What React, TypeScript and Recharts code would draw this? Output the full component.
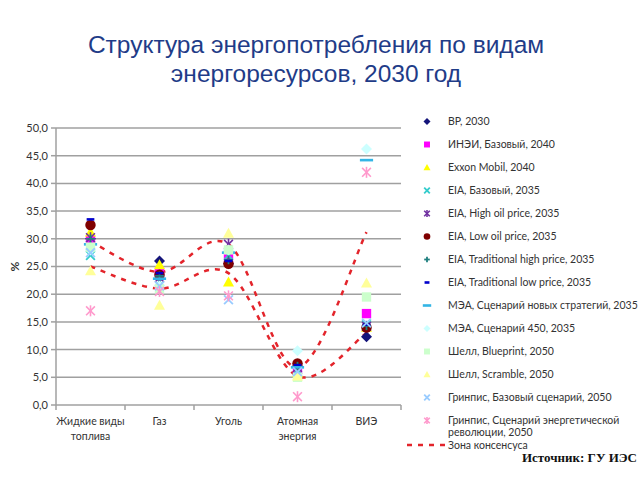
import React from 'react';
import { ComposedChart, Line, XAxis, YAxis, CartesianGrid } from 'recharts';

const categories = ['Жидкие виды\nтоплива', 'Газ', 'Уголь', 'Атомная\nэнергия', 'ВИЭ'];
const yTicks = [0, 5, 10, 15, 20, 25, 30, 35, 40, 45, 50];

const bp2030 = [30, 26, 25.5, 7, 12.3];
const ineiBase = [29.8, 24, 26.5, 6.5, 16.5];
const exxon = [31.2, 25.3, 22.2, 5.8, 14];
const eiaBase = [27, 22.3, 27, 6.3, 14.5];
const eiaHighOil = [30.2, 23, 29, 6.8, 14.2];
const eiaLowOil = [32.5, 23.5, 25.5, 7.5, 14];
const eiaTradHigh = [30, 23.3, 26.2, 7, 14.3];
const eiaTradLow = [33.5, 23.8, 26, 7.2, 14.5];
const ieaNewPolicies = [29, 22.8, 27.5, 6.8, 44.2];
const iea450 = [28, 21.5, 28, 9.8, 46.2];
const shellBlueprint = [28.5, 21, 28, 5, 19.5];
const shellScramble = [24.2, 18, 31, 5.2, 22];
const greenpeaceBase = [27.5, 21.5, 19, 6, 14.8];
const greenpeaceRevolution = [17, 20.5, 19.7, 1.5, 42];
const consensusUpper = [29.5, 24, 29, 6.8, 31.2];
const consensusLower = [25, 21, 23.8, 5.2, 13];
const boundaryTicks = [0, 1, 2, 3, 4, 5];

const seriesNames = [
  'BP, 2030',
  'ИНЭИ, Базовый, 2040',
  'Exxon Mobil, 2040',
  'EIA, Базовый, 2035',
  'EIA, High oil price, 2035',
  'EIA, Low oil price, 2035',
  'EIA, Traditional high price, 2035',
  'EIA, Traditional low price, 2035',
  'МЭА, Сценарий новых стратегий, 2035',
  'МЭА, Сценарий 450, 2035',
  'Шелл, Blueprint, 2050',
  'Шелл, Scramble, 2050',
  'Гринпис, Базовый сценарий, 2050',
  'Гринпис, Сценарий энергетической\nреволюции, 2050',
];
const seriesValues = [
  bp2030, ineiBase, exxon, eiaBase, eiaHighOil, eiaLowOil, eiaTradHigh,
  eiaTradLow, ieaNewPolicies, iea450, shellBlueprint, shellScramble,
  greenpeaceBase, greenpeaceRevolution,
];
const seriesStyles = [
  { color: '#14147a', shape: 'diamond' },
  { color: '#ff00ff', shape: 'square' },
  { color: '#ffff00', shape: 'triangle' },
  { color: '#33cccc', shape: 'x' },
  { color: '#7030a0', shape: 'star' },
  { color: '#7f0000', shape: 'circle' },
  { color: '#1f7f7f', shape: 'plus' },
  { color: '#0000cc', shape: 'dash' },
  { color: '#33b5e5', shape: 'longdash' },
  { color: '#ccffff', shape: 'diamond' },
  { color: '#ccffcc', shape: 'square' },
  { color: '#ffff99', shape: 'triangle' },
  { color: '#99ccff', shape: 'x' },
  { color: '#ff99cc', shape: 'star' },
];

const data = categories.map((c, i) => {
  const row: any = { cat: c, upper: consensusUpper[i], lower: consensusLower[i], pos: i + 0.5 };
  seriesValues.forEach((vals, s) => {
    row['s' + s] = vals[i];
  });
  return row;
});

// Excel-like smoothed line (Catmull-Rom as cubic Bezier)
function smoothCurve(context: any) {
  let pts: number[][] = [];
  return {
    areaStart() {},
    areaEnd() {},
    lineStart() {
      pts = [];
    },
    lineEnd() {
      const n = pts.length;
      if (n === 0) return;
      context.moveTo(pts[0][0], pts[0][1]);
      for (let i = 0; i < n - 1; i++) {
        const p0 = pts[Math.max(i - 1, 0)];
        const p1 = pts[i];
        const p2 = pts[i + 1];
        const p3 = pts[Math.min(i + 2, n - 1)];
        context.bezierCurveTo(
          p1[0] + (p2[0] - p0[0]) / 6,
          p1[1] + (p2[1] - p0[1]) / 6,
          p2[0] - (p3[0] - p1[0]) / 6,
          p2[1] - (p3[1] - p1[1]) / 6,
          p2[0],
          p2[1],
        );
      }
    },
    point(x: number, y: number) {
      pts.push([+x, +y]);
    },
  };
}

function Marker({ shape, cx, cy, r, color }: any) {
  switch (shape) {
    case 'diamond':
      return <polygon points={`${cx},${cy - r} ${cx + r},${cy} ${cx},${cy + r} ${cx - r},${cy}`} fill={color} />;
    case 'square':
      return <rect x={cx - r * 0.85} y={cy - r * 0.85} width={r * 1.7} height={r * 1.7} fill={color} />;
    case 'triangle':
      return <polygon points={`${cx},${cy - r} ${cx + r},${cy + r * 0.8} ${cx - r},${cy + r * 0.8}`} fill={color} />;
    case 'x':
      return (
        <g stroke={color} strokeWidth={1.8}>
          <line x1={cx - r * 0.8} y1={cy - r * 0.8} x2={cx + r * 0.8} y2={cy + r * 0.8} />
          <line x1={cx - r * 0.8} y1={cy + r * 0.8} x2={cx + r * 0.8} y2={cy - r * 0.8} />
        </g>
      );
    case 'star':
      return (
        <g stroke={color} strokeWidth={1.6}>
          <line x1={cx - r * 0.8} y1={cy - r * 0.8} x2={cx + r * 0.8} y2={cy + r * 0.8} />
          <line x1={cx - r * 0.8} y1={cy + r * 0.8} x2={cx + r * 0.8} y2={cy - r * 0.8} />
          <line x1={cx} y1={cy - r} x2={cx} y2={cy + r} />
        </g>
      );
    case 'circle':
      return <circle cx={cx} cy={cy} r={r * 0.95} fill={color} />;
    case 'plus':
      return (
        <g stroke={color} strokeWidth={1.8}>
          <line x1={cx - r * 0.8} y1={cy} x2={cx + r * 0.8} y2={cy} />
          <line x1={cx} y1={cy - r * 0.8} x2={cx} y2={cy + r * 0.8} />
        </g>
      );
    case 'dash':
      return <rect x={cx - r * 0.7} y={cy - 1.3} width={r * 1.4} height={2.6} fill={color} />;
    case 'longdash':
      return <rect x={cx - r * 1.2} y={cy - 1.3} width={r * 2.4} height={2.6} fill={color} />;
    default:
      return null;
  }
}

const CatTick = (props: any) => {
  const { x, y, payload } = props;
  const lines = String(payload.value).split('\n');
  return (
    <g>
      {lines.map((ln, i) => (
        <text key={i} x={x} y={y + 12 + i * 15} textAnchor="middle" fontSize={10.5} fill="#333" fontFamily="Lato, 'Open Sans', sans-serif">
          {ln}
        </text>
      ))}
    </g>
  );
};

export default function App() {
  return (
    <div style={{ position: 'absolute', left: 0, top: 0, width: 640, height: 480, background: '#fff', fontFamily: 'Lato, sans-serif' }}>
      <div style={{ position: 'absolute', left: 0, top: 30, width: 632, textAlign: 'center', color: '#1f3c88', fontFamily: "'Liberation Sans', Arial, sans-serif", fontSize: 24.5, lineHeight: '29px' }}>
        Структура энергопотребления по видам<br />энергоресурсов, 2030 год
      </div>
      <ComposedChart width={640} height={480} data={data} margin={{ top: 128, right: 239, bottom: 35, left: 0 }}>
        <CartesianGrid vertical={false} stroke="#a0a0a0" strokeWidth={1.5} />
        <XAxis dataKey="cat" tick={<CatTick />} tickLine={false} axisLine={false} interval={0} height={40} padding={{ left: 34.5, right: 34.5 }} />
        <XAxis
          xAxisId="b"
          type="number"
          dataKey="pos"
          domain={[0, 5]}
          ticks={boundaryTicks}
          interval={0}
          tick={{ fontSize: 1, fill: 'transparent' }}
          axisLine={false}
          tickLine={{ stroke: '#a0a0a0', strokeWidth: 1.5 }}
          tickSize={5}
          height={5}
          orientation="top"
          mirror
          allowDataOverflow
          style={{ transform: 'translateY(277px)' }}
        />
        <YAxis
          type="number"
          domain={[0, 50]}
          ticks={yTicks}
          width={56}
          tickSize={5}
          tickMargin={3}
          axisLine={{ stroke: '#a0a0a0', strokeWidth: 1.5 }}
          tickLine={{ stroke: '#a0a0a0', strokeWidth: 1.5 }}
          tick={{ fontSize: 11, fill: '#333', fontFamily: 'Lato, sans-serif' }}
          tickFormatter={(v: number) => v.toFixed(1).replace('.', ',')}
        />
        <Line type={smoothCurve as any} dataKey="upper" stroke="#e3242b" strokeWidth={2.5} strokeDasharray="5 6" dot={false} activeDot={false} isAnimationActive={false} />
        <Line type={smoothCurve as any} dataKey="lower" stroke="#e3242b" strokeWidth={2.5} strokeDasharray="5 6" dot={false} activeDot={false} isAnimationActive={false} />
        {seriesValues.map((_, s) => (
          <Line
            key={s}
            dataKey={'s' + s}
            stroke="none"
            activeDot={false}
            isAnimationActive={false}
            dot={(p: any) => (
              <g key={`m${s}-${p.index}`}>
                {p.cy == null ? null : <Marker shape={seriesStyles[s].shape} cx={p.cx} cy={p.cy} r={5.5} color={seriesStyles[s].color} />}
              </g>
            )}
          />
        ))}
      </ComposedChart>
      <div style={{ position: 'absolute', left: 4, top: 254, width: 20, height: 20 }}>
        <div style={{ transform: 'rotate(-90deg)', fontWeight: 'bold', fontSize: 12, color: '#333', fontFamily: 'Lato, sans-serif' }}>%</div>
      </div>
      <svg style={{ position: 'absolute', left: 0, top: 0 }} width={640} height={480}>
        {seriesNames.map((name, i) => {
          const y = 121.5 + i * 23;
          const lines = name.split('\n');
          return (
            <g key={i}>
              <Marker shape={seriesStyles[i].shape} cx={427} cy={y} r={3.5} color={seriesStyles[i].color} />
              {lines.map((ln, j) => (
                <text key={j} x={448} y={y + 3.8 + j * 12} fontSize={10.5} fill="#333" fontFamily="Lato, sans-serif">
                  {ln}
                </text>
              ))}
            </g>
          );
        })}
        <line x1={407} y1={445} x2={447} y2={445} stroke="#e3242b" strokeWidth={2.5} strokeDasharray="5 6" />
        <text x={448} y={448.5} fontSize={10.5} fill="#333" fontFamily="Lato, sans-serif">Зона консенсуса</text>
        <text x={637} y={462} textAnchor="end" fontSize={13} fontWeight="bold" fill="#111" fontFamily="'Liberation Serif', 'DejaVu Serif', serif">Источник: ГУ ИЭС</text>
      </svg>
    </div>
  );
}
